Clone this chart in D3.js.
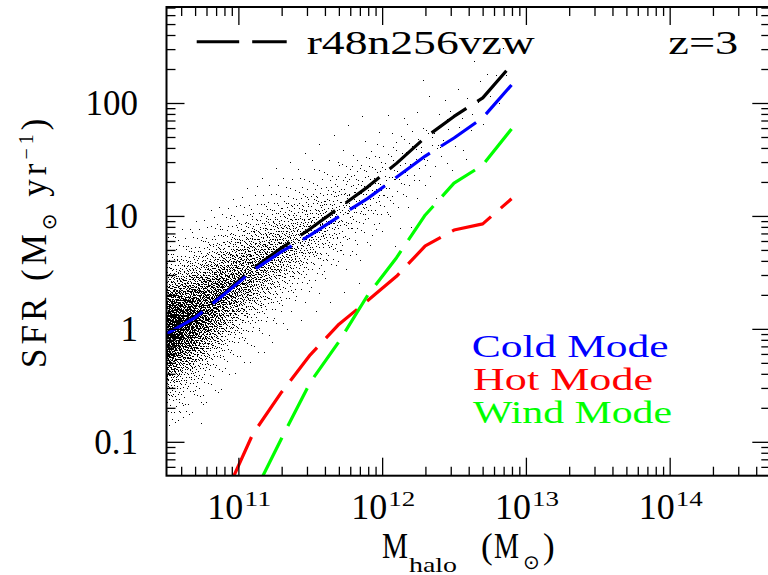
<!DOCTYPE html>
<html>
<head>
<meta charset="utf-8">
<script src="https://cdn.jsdelivr.net/npm/d3@7"></script>
<style>
  html, body { margin: 0; padding: 0; background: #fff; }
  svg { display: block; }
  text { font-family: "Liberation Serif", "DejaVu Serif", serif; fill: #000; }
  .sym { font-family: "DejaVu Sans", sans-serif; }
</style>
</head>
<body>
<script>
// ---- data -------------------------------------------------------------
// halo-mass bins (log10 Msun) of the mean SFR curves
const logMassBins = [10.5, 10.7, 10.9, 11.1, 11.3, 11.5, 11.7, 11.9, 12.1, 12.3, 12.5, 12.7, 12.9];
// mean SFR (Msun/yr) in each bin, split by accretion mode
const sfrTotal = [0.913, 1.28, 2.06, 3.42, 5.21, 7.69, 11.8, 18.1, 29.2, 49.5, 76.0, 111, 218];
const sfrCold  = [0.902, 1.259, 2.02, 3.27, 4.83, 6.76, 9.89, 14.3, 22.0, 33.9, 49.0, 74.1, 144.5];
const sfrHot   = [0.008, 0.015, 0.032, 0.117, 0.275, 0.589, 1.10, 1.78, 2.92, 5.43, 7.50, 8.51, 14.2];
const sfrWind  = [0.003, 0.005, 0.010, 0.033, 0.107, 0.336, 0.771, 1.99, 4.27, 10.2, 19.5, 28.2, 58.9];

// individual galaxies, summarised per 0.1-dex halo-mass bin:
// bin centre, number of galaxies, median log SFR, spread (dex)
const cloudMass   = [10.55, 10.65, 10.75, 10.85, 10.95, 11.05, 11.15, 11.25, 11.35, 11.45, 11.55, 11.65,
                     11.75, 11.85, 11.95, 12.05, 12.15, 12.25, 12.35, 12.45, 12.55, 12.65, 12.75, 12.85];
const cloudCount  = [1250, 1000, 800, 640, 510, 410, 330, 265, 210, 165, 128, 100,
                     78, 60, 46, 35, 26, 19, 14, 10, 7, 5, 4, 3];
const cloudMedian = [0.00, 0.07, 0.15, 0.26, 0.37, 0.47, 0.56, 0.65, 0.73, 0.81, 0.89, 0.97,
                     1.06, 1.14, 1.22, 1.31, 1.41, 1.51, 1.61, 1.70, 1.80, 1.90, 2.02, 2.16];
const cloudSpread = [0.24, 0.24, 0.24, 0.24, 0.23, 0.23, 0.23, 0.23, 0.22, 0.22, 0.22, 0.22,
                     0.22, 0.22, 0.22, 0.22, 0.22, 0.22, 0.22, 0.22, 0.22, 0.22, 0.20, 0.20];
// a few isolated low-SFR galaxies [log Mhalo, log SFR]
const outliers = [[10.59, -0.73], [10.74, -0.84], [10.56, -0.60], [10.62, -0.68], [10.70, -0.55]];

const massTicks = [1e11, 1e12, 1e13, 1e14];
const massTickExp = ["11", "12", "13", "14"];
const sfrTicks = [0.1, 1, 10, 100];
const sfrTickLabels = ["0.1", "1", "10", "100"];

const modes = [
  { name: "Total", values: sfrTotal, color: "#000000" },
  { name: "Cold Mode", values: sfrCold, color: "#0000ff" },
  { name: "Hot Mode", values: sfrHot, color: "#ff0000" },
  { name: "Wind Mode", values: sfrWind, color: "#00ff00" }
];

// ---- layout -----------------------------------------------------------
const W = 768, H = 575;
const pLeft = 166.5, pRight = 770.3, pTop = 7, pBottom = 475.7;
const x = d3.scaleLog().domain([Math.pow(10, 10.5), Math.pow(10, 14.7)]).range([pLeft, pRight]);
const y = d3.scaleLog().domain([Math.pow(10, -1.3), Math.pow(10, 2.85)]).range([pBottom, pTop]);
const dash = "42.5 13";

const svg = d3.select("body").append("svg").attr("width", W).attr("height", H);
svg.append("rect").attr("width", W).attr("height", H).attr("fill", "#fff");

svg.append("clipPath").attr("id", "plotArea")
  .append("rect").attr("x", pLeft).attr("y", pTop).attr("width", pRight - pLeft).attr("height", pBottom - pTop);

// ---- galaxy cloud -----------------------------------------------------
function normInv(p) {
  const a = [-3.969683028665376e+01, 2.209460984245205e+02, -2.759285104469687e+02, 1.383577518672690e+02, -3.066479806614716e+01, 2.506628277459239e+00];
  const b = [-5.447609879822406e+01, 1.615858368580409e+02, -1.556989798598866e+02, 6.680131188771972e+01, -1.328068155288572e+01];
  const c = [-7.784894002430293e-03, -3.223964580411365e-01, -2.400758277161838e+00, -2.549671010700071e+00, 4.374664141464968e+00, 2.938163982698783e+00];
  const d = [7.784695709041462e-03, 3.224671290700398e-01, 2.445134137142996e+00, 3.754408661907416e+00];
  const pl = 0.02425;
  if (p < pl) {
    const q = Math.sqrt(-2 * Math.log(p));
    return (((((c[0]*q+c[1])*q+c[2])*q+c[3])*q+c[4])*q+c[5]) / ((((d[0]*q+d[1])*q+d[2])*q+d[3])*q+1);
  }
  if (p > 1 - pl) {
    const q = Math.sqrt(-2 * Math.log(1 - p));
    return -(((((c[0]*q+c[1])*q+c[2])*q+c[3])*q+c[4])*q+c[5]) / ((((d[0]*q+d[1])*q+d[2])*q+d[3])*q+1);
  }
  const q = p - 0.5, r = q * q;
  return (((((a[0]*r+a[1])*r+a[2])*r+a[3])*r+a[4])*r+a[5])*q / (((((b[0]*r+b[1])*r+b[2])*r+b[3])*r+b[4])*r+1);
}
// radical-inverse positions spread each bin's galaxies evenly over mass and SFR quantile
function radicalInverse(i, base) {
  let f = 1, r = 0;
  while (i > 0) { f /= base; r += f * (i % base); i = Math.floor(i / base); }
  return r;
}

const medianAt = d3.scaleLinear().domain(cloudMass).range(cloudMedian);
const galaxies = [];
cloudMass.forEach((m, k) => {
  const n = cloudCount[k];
  const offset = k * 37;
  for (let i = 0; i < n; i++) {
    const u = Math.min(0.998, Math.max(0.002, radicalInverse(i + 1 + offset, 3)));
    const v = radicalInverse(i + 1 + offset, 2);
    const lm = m - 0.05 + 0.1 * v;
    const z = normInv(u);
    galaxies.push([lm, medianAt(lm) + cloudSpread[k] * z * (1 + 0.025 * z * z)]);
  }
});
outliers.forEach(p => galaxies.push(p));

svg.append("g").attr("clip-path", "url(#plotArea)").attr("shape-rendering", "crispEdges")
  .selectAll("rect").data(galaxies).join("rect")
  .attr("x", d => Math.floor(x(Math.pow(10, d[0]))))
  .attr("y", d => Math.floor(y(Math.pow(10, d[1]))))
  .attr("width", 1).attr("height", 1)
  .attr("fill", "#000");

// ---- mean SFR curves (clipped at the lower plot edge so dashes start there) ---
const yMinLog = -1.3;
function clippedPoints(vals) {
  const pts = logMassBins.map((m, i) => [m, Math.log10(vals[i])]);
  const out = [];
  for (let i = 0; i < pts.length; i++) {
    const p = pts[i];
    if (p[1] >= yMinLog) {
      if (i > 0 && pts[i - 1][1] < yMinLog) {
        const q = pts[i - 1];
        const t = (yMinLog - q[1]) / (p[1] - q[1]);
        out.push([q[0] + t * (p[0] - q[0]), yMinLog]);
      }
      out.push(p);
    }
  }
  return out;
}
const line = d3.line()
  .x(d => x(Math.pow(10, d[0])))
  .y(d => y(Math.pow(10, d[1])));

const curves = svg.append("g").attr("clip-path", "url(#plotArea)");
modes.forEach(md => {
  curves.append("path")
    .attr("d", line(clippedPoints(md.values)))
    .attr("fill", "none")
    .attr("stroke", md.color)
    .attr("stroke-width", 3.2)
    .attr("stroke-dasharray", dash)
    .attr("stroke-linejoin", "round");
});

// ---- frame and ticks --------------------------------------------------
function minorTicks(scale) {
  const [a, b] = scale.domain();
  const out = [];
  for (let e = Math.floor(Math.log10(a)); e <= Math.ceil(Math.log10(b)); e++) {
    for (let k = 2; k <= 9; k++) {
      const v = k * Math.pow(10, e);
      if (v >= a && v <= b) out.push(v);
    }
  }
  return out;
}
const tickGroups = [
  [d3.axisBottom(x), pBottom, null], [d3.axisTop(x), pTop, null],
  [d3.axisLeft(y), null, pLeft], [d3.axisRight(y), null, pRight]
];
tickGroups.forEach(([axis, ty, tx], idx) => {
  const isX = idx < 2;
  const scale = isX ? x : y;
  [[isX ? massTicks : sfrTicks, 18], [minorTicks(scale), 9]].forEach(([vals, len]) => {
    const g = svg.append("g")
      .attr("transform", isX ? `translate(0,${ty})` : `translate(${tx},0)`)
      .call(axis.tickValues(vals).tickSize(-len).tickFormat(""));
    g.select(".domain").remove();
    g.selectAll("line").attr("stroke", "#000").attr("stroke-width", 1.3);
  });
});
svg.append("rect")
  .attr("x", pLeft).attr("y", pTop).attr("width", pRight - pLeft).attr("height", pBottom - pTop)
  .attr("fill", "none").attr("stroke", "#000").attr("stroke-width", 2);

// ---- tick labels ------------------------------------------------------
massTicks.forEach((v, i) => {
  const cx = x(v);
  svg.append("text").attr("x", cx - 31).attr("y", 518.5)
    .attr("font-size", 35).attr("textLength", 36).attr("lengthAdjust", "spacingAndGlyphs").text("10");
  svg.append("text").attr("x", cx + 6).attr("y", 506)
    .attr("font-size", 20).attr("textLength", 27).attr("lengthAdjust", "spacingAndGlyphs").text(massTickExp[i]);
});
sfrTicks.forEach((v, i) => {
  svg.append("text").attr("x", 138).attr("y", y(v) + 12)
    .attr("text-anchor", "end").attr("font-size", 35).text(sfrTickLabels[i]);
});

// ---- axis titles ------------------------------------------------------
const xt = svg.append("g");
xt.append("text").attr("x", 382).attr("y", 558).attr("font-size", 35)
  .attr("textLength", 26).attr("lengthAdjust", "spacingAndGlyphs").text("M");
xt.append("text").attr("x", 409).attr("y", 571.5).attr("font-size", 22)
  .attr("textLength", 48).attr("lengthAdjust", "spacingAndGlyphs").text("halo");
xt.append("text").attr("x", 481).attr("y", 558).attr("font-size", 35).text("(");
xt.append("text").attr("x", 494).attr("y", 558).attr("font-size", 35)
  .attr("textLength", 25).attr("lengthAdjust", "spacingAndGlyphs").text("M");
xt.append("text").attr("class", "sym").attr("x", 523).attr("y", 569).attr("font-size", 20).text("\u2299");
xt.append("text").attr("x", 543).attr("y", 558).attr("font-size", 35).text(")");

// vertical title, centred on the plot height
const yTitle = svg.append("text")
  .attr("transform", `translate(46,${(pTop + pBottom) / 2}) rotate(-90)`)
  .attr("text-anchor", "middle")
  .attr("font-size", 35)
  .style("letter-spacing", "4px");
yTitle.append("tspan").text("SFR (M");
yTitle.append("tspan").attr("class", "sym").attr("font-size", 20).attr("dy", 10).text("\u2299");
yTitle.append("tspan").attr("dy", -10).text(" yr");
yTitle.append("tspan").attr("font-size", 20).attr("dy", -13).text("\u22121");
yTitle.append("tspan").attr("dy", 13).text(")");

// ---- legends ----------------------------------------------------------
svg.append("line").attr("x1", 196.7).attr("x2", 286.7).attr("y1", 41.7).attr("y2", 41.7)
  .attr("stroke", "#000").attr("stroke-width", 3).attr("stroke-dasharray", dash);
svg.append("text").attr("x", 306.7).attr("y", 53.5).attr("font-size", 34)
  .attr("textLength", 228).attr("lengthAdjust", "spacingAndGlyphs").text("r48n256vzw");
svg.append("text").attr("x", 668.3).attr("y", 53.5).attr("font-size", 34)
  .attr("textLength", 70).attr("lengthAdjust", "spacingAndGlyphs").text("z=3");

const modeLegend = [
  { m: modes[1], x: 471.7, y: 356.7, len: 197 },
  { m: modes[2], x: 473, y: 389.7, len: 180 },
  { m: modes[3], x: 473, y: 423, len: 199 }
];
modeLegend.forEach(d => {
  svg.append("text").attr("x", d.x).attr("y", d.y).attr("font-size", 32)
    .attr("textLength", d.len).attr("lengthAdjust", "spacingAndGlyphs")
    .style("fill", d.m.color).text(d.m.name);
});
</script>
</body>
</html>
